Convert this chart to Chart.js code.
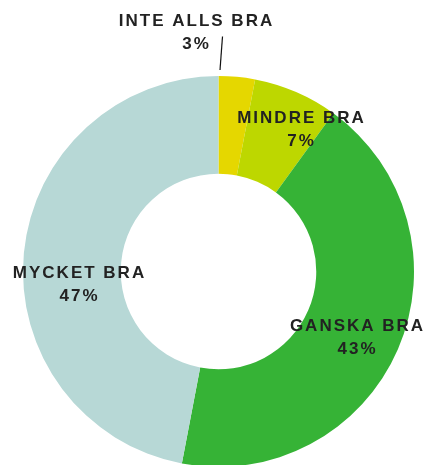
<!DOCTYPE html>
<html>
<head>
<meta charset="utf-8">
<script src="https://cdn.jsdelivr.net/npm/chart.js"></script>
<style>
  html, body { margin: 0; padding: 0; background: #fff; overflow: hidden; }
  #wrap { width: 427px; height: 470px; }
</style>
</head>
<body>
<div id="wrap"><canvas id="donut" width="427" height="470"></canvas></div>
<script>
// chart data
const categories = ['INTE ALLS BRA', 'MINDRE BRA', 'GANSKA BRA', 'MYCKET BRA'];
const shares = [3, 7, 43, 47];
const colors = ['#e5d700', '#bdd700', '#36b336', '#b7d8d6'];

// label placement relative to the chart centre (px)
const labelOffsets = [
  { dx: -22, dy: -250 },
  { dx: 83, dy: -153 },
  { dx: 139, dy: 55 },
  { dx: -139, dy: 2 }
];

const labelPlugin = {
  id: 'sliceLabels',
  afterDatasetsDraw(chart) {
    const ctx = chart.ctx;
    const arcs = chart.getDatasetMeta(0).data;
    const cx = arcs[0].x, cy = arcs[0].y;
    ctx.save();
    ctx.fillStyle = '#222';
    ctx.textAlign = 'center';
    ctx.textBaseline = 'middle';
    ctx.font = 'bold 17px "Liberation Sans", Arial, sans-serif';
    ctx.letterSpacing = '2px';
    categories.forEach((name, i) => {
      const x = cx + labelOffsets[i].dx, y = cy + labelOffsets[i].dy;
      ctx.fillText(name, x, y);
      ctx.fillText(shares[i] + '%', x, y + 23);
    });
    // leader line for the small first slice
    const a = arcs[0];
    ctx.strokeStyle = '#111';
    ctx.lineWidth = 1.2;
    ctx.beginPath();
    ctx.moveTo(cx + 4, cy - 235);
    ctx.lineTo(cx + 1.5, cy - a.outerRadius - 6);
    ctx.stroke();
    ctx.restore();
  }
};

new Chart(document.getElementById('donut'), {
  type: 'doughnut',
  data: {
    labels: categories,
    datasets: [{
      data: shares,
      backgroundColor: colors,
      borderWidth: 0
    }]
  },
  options: {
    responsive: false,
    animation: false,
    cutout: '50%',
    layout: { padding: { top: 76, bottom: 3, left: 23, right: 13 } },
    plugins: {
      legend: { display: false },
      tooltip: { enabled: false }
    }
  },
  plugins: [labelPlugin]
});
</script>
</body>
</html>
